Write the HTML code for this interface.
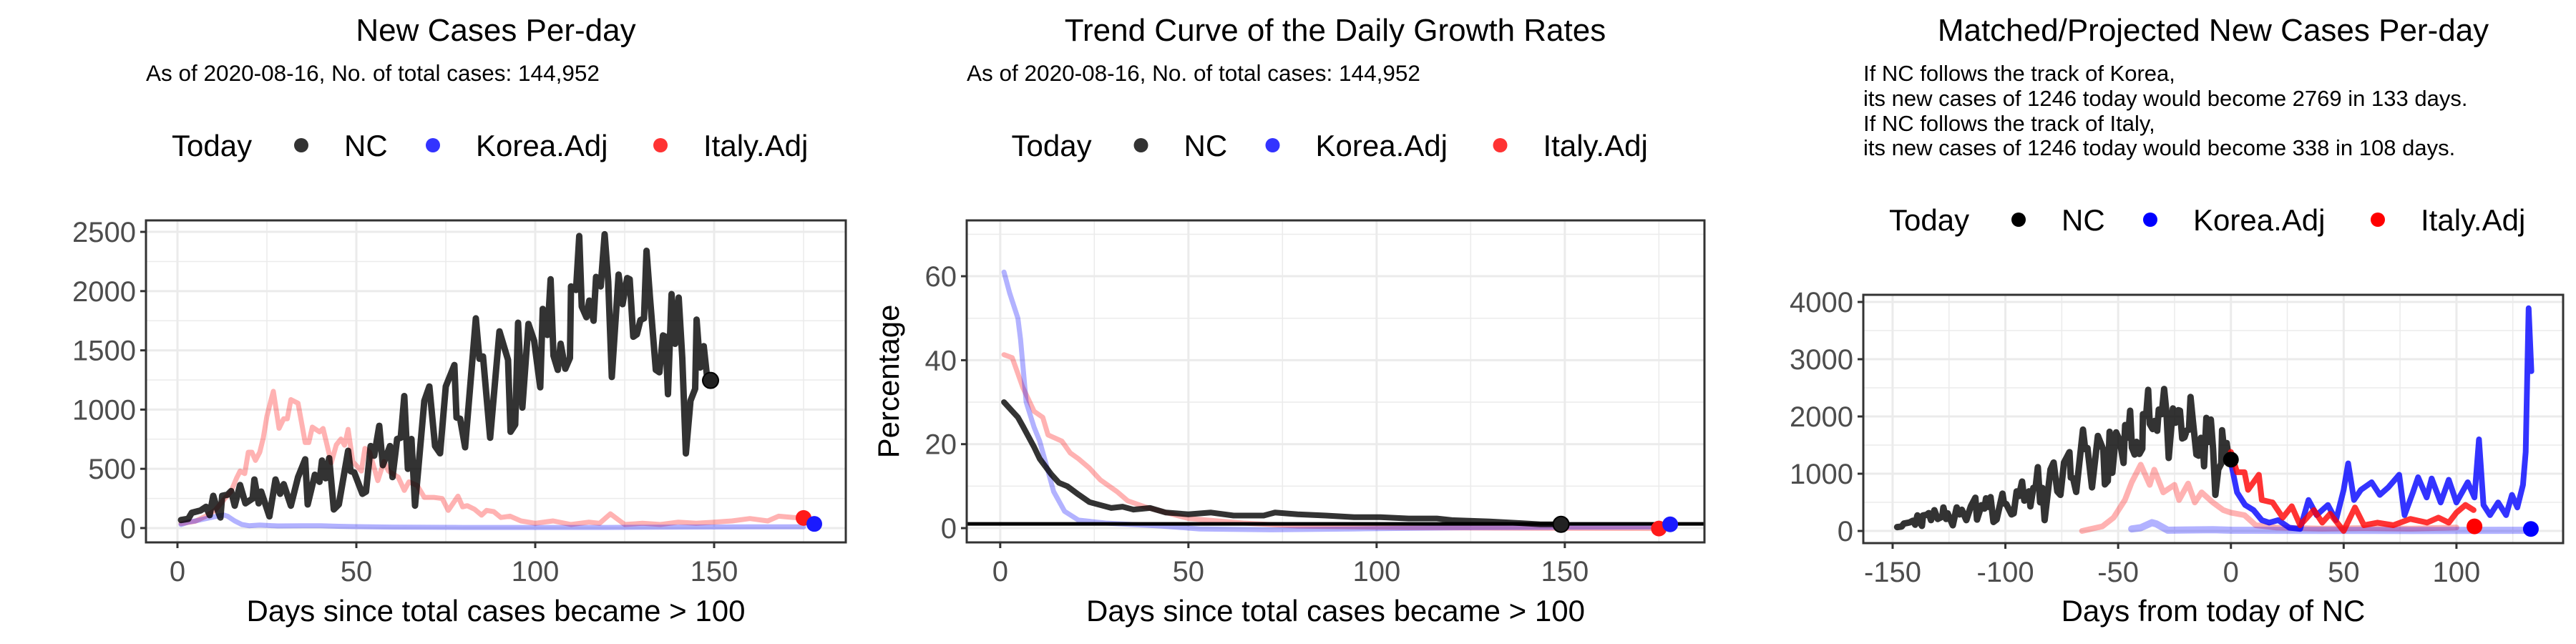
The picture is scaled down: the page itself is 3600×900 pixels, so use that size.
<!DOCTYPE html>
<html><head><meta charset="utf-8"><style>
html,body{margin:0;padding:0;background:#fff;}
svg{display:block;font-family:"Liberation Sans",Arial,sans-serif;}
</style></head><body>
<svg id="chart" width="3600" height="900" viewBox="0 0 3600 900" xmlns="http://www.w3.org/2000/svg">
<rect x="0" y="0" width="3600" height="900" fill="#fff"/>
<g>
<text x="693" y="57" font-size="44" text-anchor="middle">New Cases Per-day</text>
<text x="204" y="113" font-size="31.5">As of 2020-08-16, No. of total cases: 144,952</text>
</g>
<g>
<text x="1866" y="57" font-size="44" text-anchor="middle">Trend Curve of the Daily Growth Rates</text>
<text x="1351" y="113" font-size="31.5">As of 2020-08-16, No. of total cases: 144,952</text>
</g>
<g>
<text x="3093" y="57" font-size="44" text-anchor="middle">Matched/Projected New Cases Per-day</text>
<text x="2604" y="113" font-size="31">If NC follows the track of Korea,</text>
<text x="2604" y="148" font-size="31">its new cases of 1246 today would become 2769 in 133 days.</text>
<text x="2604" y="183" font-size="31">If NC follows the track of Italy,</text>
<text x="2604" y="217" font-size="31">its new cases of 1246 today would become 338 in 108 days.</text>
</g>
</svg>
<script>
// ---- data ----
const ncDays = [1,3,4,6.5,8,9,10,11,12,12.5,14,15,16,17.5,19,21,21.5,22.7,23.4,25.7,27.4,28.7,29.7,31.7,33.7,35.7,36.4,38.4,39.7,40.4,41.4,42.4,43.7,45.1,47.7,48.4,49.4,51.7,52.7,54,55,56.4,57.4,59.4,60.1,61.4,62.4,63.4,64.4,65.4,66.4,69,70.4,72,73.4,75,77.4,78,79,80.4,83.4,84.4,85.4,87.4,90,92.4,93.1,94.4,95.2,96.4,98.1,99.7,101.4,102.1,103.4,104.3,105.1,106.3,107.1,108.4,109.7,110,111.4,112.3,113,114.3,115.1,116.3,117,118.3,119.4,120.4,121.4,123.3,124.4,125.7,126.4,127.4,128.4,129.4,130.4,131.1,132.1,133.7,134.7,135.7,136.4,137.1,138.1,139.1,140.1,141.1,142.1,143.4,144.7,145.1,146.1,147.1,148.1,149];
const ncVals = [68,78,129,149,179,109,272,169,89,272,282,312,189,363,209,249,410,209,308,99,410,289,370,189,430,580,199,450,390,570,420,590,157,199,652,480,470,289,308,692,611,863,531,692,430,752,762,1114,500,752,189,1074,1195,692,631,1195,1376,933,923,682,1770,1429,1449,762,1660,1419,813,873,1733,1017,1723,1580,1188,1850,1630,2100,1455,1335,1556,1345,1436,2040,2010,2465,1870,1780,1920,1750,2120,2040,2480,2080,1275,2140,1890,2110,2100,1615,1635,1755,1770,2340,1935,1335,1315,1626,1615,1130,1975,1555,1945,1435,630,1075,1175,1760,1355,1535,1255,1246];
const itDays = [1,5,7.8,10.5,13,15,16.5,17.5,18.8,19.8,20.8,21.8,23,24,25,26,26.8,28.4,29.7,30.7,31.7,33.7,35.7,36.7,37.7,39.7,40.7,43,44.4,45.7,46.7,47.7,49,51.4,52.4,53.7,56,57.7,59,61.7,63.4,64.7,67,69,71.7,74,75.7,78.4,79.7,81,83,85,86.4,88.4,90.4,93,96,100,105,110,115,118,121,125,130,135,140,145,150,155,160,165,168,172,175];
const itVals = [38,58,99,149,240,310,420,481,460,640,640,571,640,762,943,1064,1154,842,923,923,1084,1054,722,722,852,812,840,551,702,752,700,833,561,481,672,640,400,561,481,430,318,390,360,259,259,249,149,269,179,189,159,109,149,139,89,100,60,40,60,30,50,40,120,30,40,30,50,40,50,60,80,60,100,90,85];
const koDays = [1,3,5,8,11,13,14,16,18,20,23,28,35,40,45,50,60,80,100,120,140,160,175];
const koVals = [30,50,60,80,100,110,100,60,30,20,25,18,20,20,15,12,8,5,5,5,8,10,10];
const todayP1 = {nc:[149,1246], ko:[178,35], it:[175,85]};

const grDaysNC = [1,4.7,6,9,10.5,13.5,15.6,17.8,20.8,23.7,26.6,29.5,32.5,35.4,39.8,44,50,56,62,70,73,79,86.5,94,101,108.5,116,120,130,138,143.5,149];
const grValsNC = [30,26.4,24.3,19.3,16.5,12.9,10.8,10,8,6.2,5.5,4.8,5.1,4.4,4.8,3.7,3.3,3.7,3,3,3.7,3.3,3,2.6,2.6,2.3,2.3,1.9,1.6,1.2,0.9,0.9];
const grDaysKO = [1,2.5,4.7,5.4,6.9,9,10.5,12.7,14.2,17.1,20.8,28,42.7,53,72,94,123,150,176];
const grValsKO = [61,56,50,45,30,24,20.7,13.6,8.7,4,1.9,1.2,0.5,-0.2,-0.4,-0.2,0.1,0.2,0.3];
const grDaysIT = [1,3.2,6,9,11.3,12.7,16.4,18.6,20.8,23.7,26.6,31,33.9,38.3,44,50,64.6,79,108.5,137.7,175];
const grValsIT = [41.3,40.6,33.5,27.8,26.4,22.2,20.7,17.9,16.5,14.3,11.5,8.7,6.5,5.1,3.7,2.3,1.2,0.5,0.1,0,-0.1];
const todayP2 = {nc:[149,0.9], ko:[178,0.9], it:[175,-0.1]};
const refLine = 1;

const pjItPastDays = [-66,-57,-52,-47,-44,-40,-36,-34,-30,-25,-23,-19,-16,-13,-8,-3.4,0,6,11,20,40,60,80,100];
const pjItPastVals = [0,80,233,542,850,1158,806,1070,674,806,542,828,498,674,498,366,321,277,101,60,40,50,40,60];
const pjKoPastDays = [-44,-40,-35,-33,-28,-8,0,40,80,120,133];
const pjKoPastVals = [35,57,145,123,13,22,13,10,8,12,12];
const pjItDays = [0,2.7,6,7.6,12.4,13.7,18.5,23,27,30.7,36.8,40.5,44,48,50,55,59,65,72,79.5,87,92,96.6,100,104,107.6];
const pjItVals = [1380,1026,1026,718,982,542,498,233,432,101,366,145,300,101,0,410,101,145,101,211,145,233,145,321,454,366];
const pjKoDays = [0,2.7,6.3,10,13.7,17,21,25.9,30.7,34.4,38,43,46.6,50,52,54.6,57.6,62.4,66,69.8,74.6,77,80.7,83,86.8,89,93,96.6,100,105,108,110,112,114.9,118.5,122,124.6,127,129.5,130.7,132,133.2];
const pjKoVals = [1200,674,454,366,189,145,189,57,35,542,277,454,189,718,1180,542,718,850,630,762,982,277,674,938,586,916,498,894,498,850,586,1600,454,277,498,277,630,410,806,1380,3890,2790];
const todayP3 = {nc:[0,1246], ko:[133,35], it:[108,80]};

const p1XTicks = [0,50,100,150];
const p1YTicks = [0,500,1000,1500,2000,2500];
const p2XTicks = [0,50,100,150];
const p2YTicks = [0,20,40,60];
const p3XTicks = [-150,-100,-50,0,50,100];
const p3YTicks = [0,1000,2000,3000,4000];

// ---- drawing ----
const NS = "http://www.w3.org/2000/svg";
const svg = document.getElementById('chart');
function mk(tag, attrs, parent){
  const e = document.createElementNS(NS, tag);
  for (const k in attrs) e.setAttribute(k, attrs[k]);
  (parent||svg).appendChild(e);
  return e;
}
function linScale(d0,d1,r0,r1){ return v => r0 + (v-d0)/(d1-d0)*(r1-r0); }

function panel(opt){
  const g = mk('g', {});
  
  
  const {L,R,T,B} = opt;
  const sx = linScale(opt.xd[0],opt.xd[1],L,R);
  const sy = linScale(opt.yd[0],opt.yd[1],B,T);
  for (let i=0;i<opt.xt.length;i++){
    const m = opt.xt[i] + (opt.xt[1]-opt.xt[0])/2;
    if (sx(m)>L && sx(m)<R){ const l=mk('line',{x1:sx(m),x2:sx(m),y1:T,y2:B,stroke:'#ebebeb','stroke-width':1.5},g);
        }
    const mb = opt.xt[0] - (opt.xt[1]-opt.xt[0])/2;
    if (i===0 && sx(mb)>L){ const l=mk('line',{x1:sx(mb),x2:sx(mb),y1:T,y2:B,stroke:'#ebebeb','stroke-width':1.5},g);
        }
  }
  for (let i=0;i<opt.yt.length;i++){
    const m = opt.yt[i] + (opt.yt[1]-opt.yt[0])/2;
    if (sy(m)>T && sy(m)<B){ const l=mk('line',{x1:L,x2:R,y1:sy(m),y2:sy(m),stroke:'#ebebeb','stroke-width':1.5},g);
        }
  }
  opt.xt.forEach(v=>{
    const x=sx(v);
    const l=mk('line',{x1:x,x2:x,y1:T,y2:B,stroke:'#ebebeb','stroke-width':3},g);
     
    const t=mk('line',{x1:x,x2:x,y1:B,y2:B+8,stroke:'#333','stroke-width':3},g);
     
    const tx=mk('text',{x:x,y:B+54,'font-size':40,fill:'#4d4d4d','text-anchor':'middle'},g);
     
    tx.textContent=v;
  });
  opt.yt.forEach(v=>{
    const y=sy(v);
    const l=mk('line',{x1:L,x2:R,y1:y,y2:y,stroke:'#ebebeb','stroke-width':3},g);
     
    const t=mk('line',{x1:L-8,x2:L,y1:y,y2:y,stroke:'#333','stroke-width':3},g);
     
    const tx=mk('text',{x:L-14,y:y+14,'font-size':40,fill:'#4d4d4d','text-anchor':'end'},g);
     
    tx.textContent=v;
  });
  const cid='clip-'+opt.name;
  const defs=mk('defs',{},g); const cp=mk('clipPath',{id:cid},defs); mk('rect',{x:L,y:T,width:R-L,height:B-T},cp);
  const plot=mk('g',{'clip-path':'url(#'+cid+')'},g);
   
  opt.series.forEach(s=>{
    const pts=s.x.map((d,i)=>(sx(d+(s.off||0))).toFixed(1)+','+sy(s.y[i]).toFixed(1)).join(' ');
    const p=mk('polyline',{points:pts,fill:'none',stroke:s.c,'stroke-width':s.w||8,'stroke-linejoin':'round','stroke-linecap':'round'},plot);
     
  });
  if (opt.hline!==undefined){
    const h=mk('line',{x1:L,x2:R,y1:sy(opt.hline),y2:sy(opt.hline),stroke:'#000','stroke-width':5},plot);
     
  }
  opt.dots.forEach(d=>{
    const c=mk('circle',{cx:sx(d.p[0]),cy:sy(d.p[1]),r:11,fill:d.c,stroke:d.s||'none','stroke-width':2},plot);
     
  });
  const bd=mk('rect',{x:L,y:T,width:R-L,height:B-T,fill:'none',stroke:'#333','stroke-width':3},g);
   
  const xt=mk('text',{x:(L+R)/2,y:868,'font-size':42,fill:'#000','text-anchor':'middle'},g);
   
  xt.textContent=opt.xtitle;
  if (opt.ytitle){
    const yt=mk('text',{x:0,y:0,'font-size':42,fill:'#000','text-anchor':'middle',transform:'translate(1256,'+((T+B)/2)+') rotate(-90)'},g);
     
    yt.textContent=opt.ytitle;
  }
  const cx=(L+R)/2, by=opt.legY;
  const lg=mk('g',{},g);
   
  const lt=mk('text',{x:cx-453,y:by,'font-size':42},lg);
   
  lt.textContent='Today';
  opt.leg.forEach(e=>{
    const c=mk('circle',{cx:cx+e.dx,cy:by-15,r:10,fill:e.c},lg);
     
    const t=mk('text',{x:cx+e.dx+60,y:by,'font-size':42},lg);
     
    t.textContent=e.t;
  });
}

const pink='rgba(255,0,0,0.3)', lblue='rgba(0,0,255,0.3)', dark='rgba(0,0,0,0.8)';
const legA=[{dx:-272,c:'#333',t:'NC'},{dx:-88,c:'#3333ff',t:'Korea.Adj'},{dx:230,c:'#ff3333',t:'Italy.Adj'}];
const legB=[{dx:-272,c:'#000',t:'NC'},{dx:-88,c:'#0000ff',t:'Korea.Adj'},{dx:230,c:'#ff0000',t:'Italy.Adj'}];

panel({name:'panel-new-cases',L:204,R:1182,T:308,B:758,xd:[-8.8,186.8],yd:[-121,2597],xt:p1XTicks,yt:p1YTicks,
  xtitle:'Days since total cases became > 100',legY:218,leg:legA,
  series:[{n:'italy-line',x:itDays,y:itVals,c:pink,w:7},{n:'korea-line',x:koDays,y:koVals,c:lblue,w:7},{n:'nc-line',x:ncDays,y:ncVals,c:dark,w:9}],
  dots:[{n:'nc-today-point',p:todayP1.nc,c:'#222',s:'#000'},{n:'italy-today-point',p:todayP1.it,c:'#ff1a1a'},{n:'korea-today-point',p:todayP1.ko,c:'#1a1aff'}]});

panel({name:'panel-growth-rates',L:1351,R:2382,T:308,B:758,xd:[-8.9,187.1],yd:[-3.4,73.3],xt:p2XTicks,yt:p2YTicks,
  xtitle:'Days since total cases became > 100',ytitle:'Percentage',legY:218,leg:legA,hline:refLine,
  series:[{n:'italy-rate-line',x:grDaysIT,y:grValsIT,c:pink,w:7},{n:'korea-rate-line',x:grDaysKO,y:grValsKO,c:lblue,w:7},{n:'nc-rate-line',x:grDaysNC,y:grValsNC,c:dark,w:8}],
  dots:[{n:'nc-today-point',p:todayP2.nc,c:'#222',s:'#000'},{n:'italy-today-point',p:todayP2.it,c:'#ff1a1a'},{n:'korea-today-point',p:todayP2.ko,c:'#1a1aff'}]});

panel({name:'panel-projected',L:2604,R:3582,T:412,B:759,xd:[-163,147.3],yd:[-212,4125],xt:p3XTicks,yt:p3YTicks,
  xtitle:'Days from today of NC',legY:322,leg:legB,
  series:[{n:'italy-past-line',x:pjItPastDays,y:pjItPastVals,c:pink,w:8},{n:'korea-past-line',x:pjKoPastDays,y:pjKoPastVals,c:lblue,w:10},
    {n:'nc-line',x:ncDays,y:ncVals,c:dark,w:9,off:-149},
    {n:'korea-projection-line',x:pjKoDays,y:pjKoVals,c:'rgba(0,0,255,0.8)',w:8},{n:'italy-projection-line',x:pjItDays,y:pjItVals,c:'rgba(255,0,0,0.8)',w:8}],
  dots:[{n:'nc-today-point',p:todayP3.nc,c:'#000'},{n:'italy-today-point',p:todayP3.it,c:'#ff0000'},{n:'korea-today-point',p:todayP3.ko,c:'#0000ff'}]});
</script>
</body></html>
